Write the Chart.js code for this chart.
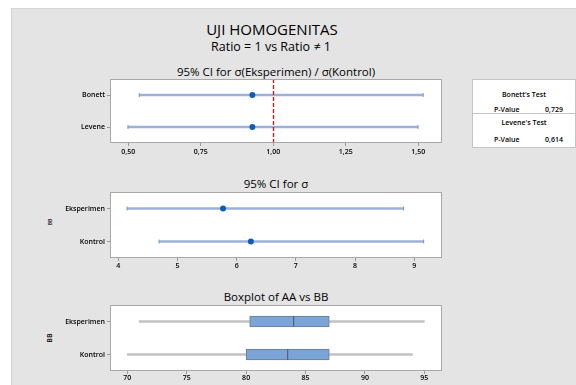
<!DOCTYPE html>
<html>
<head>
<meta charset="utf-8">
<script src="https://cdn.jsdelivr.net/npm/chart.js@4.4.1/dist/chart.umd.min.js"></script>
<style>
  html, body { margin: 0; padding: 0; background: #ffffff; }
  body { width: 576px; height: 385px; position: relative; overflow: hidden; font-family: "Open Sans", "Noto Sans", sans-serif; }
  #bg { position: absolute; left: 11px; top: 8px; right: 0; bottom: 0; background: #e4e4e4; border-left: 1px solid #d0d0d0; border-top: 1px solid #d6d6d6; }
  canvas { position: absolute; left: 40px; }
  .t { position: absolute; text-align: center; color: #000; white-space: nowrap; }
  .axt { position: absolute; color: #000; white-space: nowrap; transform: rotate(-90deg); transform-origin: center center; text-align: center; width: 30px; font-weight: 600; }
  #tbl { position: absolute; left: 472px; top: 79px; width: 102px; height: 67px; background: #fff; border: 1px solid #c4c4c4; font-size: 7px; color: #000; font-weight: 600; }
  #tbl .row { position: absolute; left: 0; width: 100%; text-align: center; }
  #tbl .pv { position: absolute; }
  #tbl .sep { position: absolute; left: 0; width: 100%; top: 33px; border-top: 1px solid #c4c4c4; }
</style>
</head>
<body>
<div id="bg"></div>

<div class="t" style="left:122px;width:300px;top:19px;font-size:15px;line-height:20px;">UJI HOMOGENITAS</div>
<div class="t" style="left:121px;width:300px;top:38px;font-size:12.5px;line-height:17px;">Ratio = 1 vs Ratio ≠ 1</div>

<div class="t" style="left:126px;width:300px;top:64px;font-size:11.5px;line-height:16px;">95% CI for σ(Eksperimen) / σ(Kontrol)</div>
<div class="t" style="left:126px;width:300px;top:176px;font-size:11.5px;line-height:16px;">95% CI for σ</div>
<div class="t" style="left:126px;width:300px;top:289px;font-size:11.5px;line-height:16px;">Boxplot of AA vs BB</div>

<div class="axt" style="left:35px;top:218px;font-size:5px;line-height:8px;">BB</div>
<div class="axt" style="left:35px;top:333px;font-size:7px;line-height:10px;">BB</div>

<div id="tbl">
  <div class="row" style="top:10px;">Bonett's Test</div>
  <div class="pv" style="left:21px;top:25px;">P-Value</div>
  <div class="pv" style="left:72px;top:25px;">0,729</div>
  <div class="sep"></div>
  <div class="row" style="top:38px;">Levene's Test</div>
  <div class="pv" style="left:21px;top:55px;">P-Value</div>
  <div class="pv" style="left:72px;top:55px;">0,614</div>
</div>

<canvas id="c1" width="420" height="100" style="top:60px;"></canvas>
<canvas id="c2" width="420" height="105" style="top:170px;"></canvas>
<canvas id="c3" width="420" height="105" style="top:280px;"></canvas>

<script>
// Ratio of standard deviations: 95% intervals per test
const ratioTests = ['Bonett', 'Levene'];
const ratioLow = [0.538, 0.499];
const ratioHigh = [1.517, 1.499];
const ratioEst = [0.928, 0.928];
const ratioTicks = [0.50, 0.75, 1.00, 1.25, 1.50];
const ratioRef = 1.00;

// Per-group standard deviation intervals
const groups = ['Eksperimen', 'Kontrol'];
const sigmaLow = [4.15, 4.69];
const sigmaHigh = [8.82, 9.16];
const sigmaEst = [5.77, 6.24];
const sigmaTicks = [4, 5, 6, 7, 8, 9];

// Five-number summaries of AA by group
const aaMin = [71, 70];
const aaQ1 = [80.3, 80];
const aaMedian = [84, 83.5];
const aaQ3 = [87, 87];
const aaMax = [95, 94];
const aaTicks = [70, 75, 80, 85, 90, 95];

const tickFont = { family: '"Open Sans", "Noto Sans", sans-serif', size: 7, weight: '600' };
const ciColor = '#9db0da';
const dotColor = '#0d5cb6';

// White plot area with a grey frame, plus an optional dashed reference line
const framePlugin = {
  id: 'frame',
  beforeDraw(chart) {
    const a = chart.chartArea, ctx = chart.ctx;
    ctx.save();
    ctx.fillStyle = '#ffffff';
    ctx.fillRect(a.left, a.top, a.right - a.left, a.bottom - a.top);
    ctx.restore();
  },
  afterDatasetsDraw(chart, args, opts) {
    const a = chart.chartArea, ctx = chart.ctx;
    ctx.save();
    if (opts.refValue !== undefined) {
      const x = Math.round(chart.scales.x.getPixelForValue(opts.refValue)) + 0.5;
      ctx.strokeStyle = '#c42020';
      ctx.lineWidth = 1.4;
      ctx.setLineDash([4, 2]);
      ctx.beginPath();
      ctx.moveTo(x, a.top);
      ctx.lineTo(x, a.bottom);
      ctx.stroke();
      ctx.setLineDash([]);
    }
    ctx.strokeStyle = '#a8a8a8';
    ctx.lineWidth = 1;
    ctx.strokeRect(a.left + 0.5, a.top + 0.5, a.right - a.left - 1, a.bottom - a.top - 1);
    ctx.restore();
  }
};

function scales(xMin, xMax, xTicks, fmt, axisH, tickPad, cats) {
  return {
    x: {
      type: 'linear', min: xMin, max: xMax,
      afterBuildTicks(s) { s.ticks = xTicks.map(v => ({ value: v })); },
      afterFit(s) { s.height = axisH; },
      grid: { display: true, drawOnChartArea: false, drawTicks: true, tickLength: 3, color: '#9a9a9a' },
      border: { display: false },
      ticks: { font: tickFont, color: '#000', padding: tickPad, maxRotation: 0, autoSkip: false, callback: fmt }
    },
    y: {
      type: 'category', labels: cats, offset: true,
      afterFit(s) { s.width = 70; },
      grid: { display: true, offset: false, drawOnChartArea: false, drawTicks: true, tickLength: 3, color: '#9a9a9a' },
      border: { display: false },
      ticks: { font: tickFont, color: '#000', padding: 2 }
    }
  };
}

function ciDatasets(cats, low, high, est) {
  const caps = [];
  cats.forEach((c, i) => { caps.push({ x: low[i], y: c }); caps.push({ x: high[i], y: c }); });
  return [
    { type: 'bar', indexAxis: 'y', data: low.map((l, i) => [l, high[i]]), barThickness: 2, backgroundColor: ciColor, borderWidth: 0, grouped: false, order: 3 },
    { type: 'scatter', data: caps, pointStyle: 'line', rotation: 90, radius: 2, borderColor: '#7f97c9', borderWidth: 1, order: 2 },
    { type: 'scatter', data: est.map((v, i) => ({ x: v, y: cats[i] })), pointStyle: 'circle', radius: 3, backgroundColor: dotColor, borderColor: dotColor, borderWidth: 0, order: 1 }
  ];
}

function baseOptions(padTop, sc, refValue) {
  return {
    responsive: false, animation: false, devicePixelRatio: 1, indexAxis: 'y',
    layout: { padding: { top: padTop, right: 18, left: 0, bottom: 0 } },
    plugins: { legend: { display: false }, tooltip: { enabled: false }, frame: { refValue } },
    scales: sc
  };
}

const fmtComma = v => v.toFixed(2).replace('.', ',');
const fmtInt = v => String(v);

new Chart(document.getElementById('c1'), {
  type: 'bar',
  data: { labels: ratioTests, datasets: ciDatasets(ratioTests, ratioLow, ratioHigh, ratioEst) },
  options: baseOptions(19, scales(0.437, 1.582, ratioTicks, fmtComma, 17, 2, ratioTests), ratioRef),
  plugins: [framePlugin]
});

new Chart(document.getElementById('c2'), {
  type: 'bar',
  data: { labels: groups, datasets: ciDatasets(groups, sigmaLow, sigmaHigh, sigmaEst) },
  options: baseOptions(22, scales(3.86, 9.47, sigmaTicks, fmtInt, 17, 1, groups)),
  plugins: [framePlugin]
});

new Chart(document.getElementById('c3'), {
  type: 'bar',
  data: {
    labels: groups,
    datasets: [
      { type: 'bar', indexAxis: 'y', data: aaMin.map((m, i) => [m, aaMax[i]]), barThickness: 2, backgroundColor: '#c2c2c2', borderWidth: 0, grouped: false, order: 3 },
      { type: 'bar', indexAxis: 'y', data: aaQ1.map((q, i) => [q, aaQ3[i]]), barThickness: 11, backgroundColor: '#7ba5d9', borderColor: '#6f7b8c', borderWidth: 1, borderSkipped: false, grouped: false, order: 2 },
      { type: 'scatter', data: aaMedian.map((v, i) => ({ x: v, y: groups[i] })), pointStyle: 'line', rotation: 90, radius: 5.5, borderColor: '#4f5560', borderWidth: 1, order: 1 }
    ]
  },
  options: baseOptions(25, scales(68.54, 96.49, aaTicks, fmtInt, 14, 0, groups)),
  plugins: [framePlugin]
});
</script>
</body>
</html>
